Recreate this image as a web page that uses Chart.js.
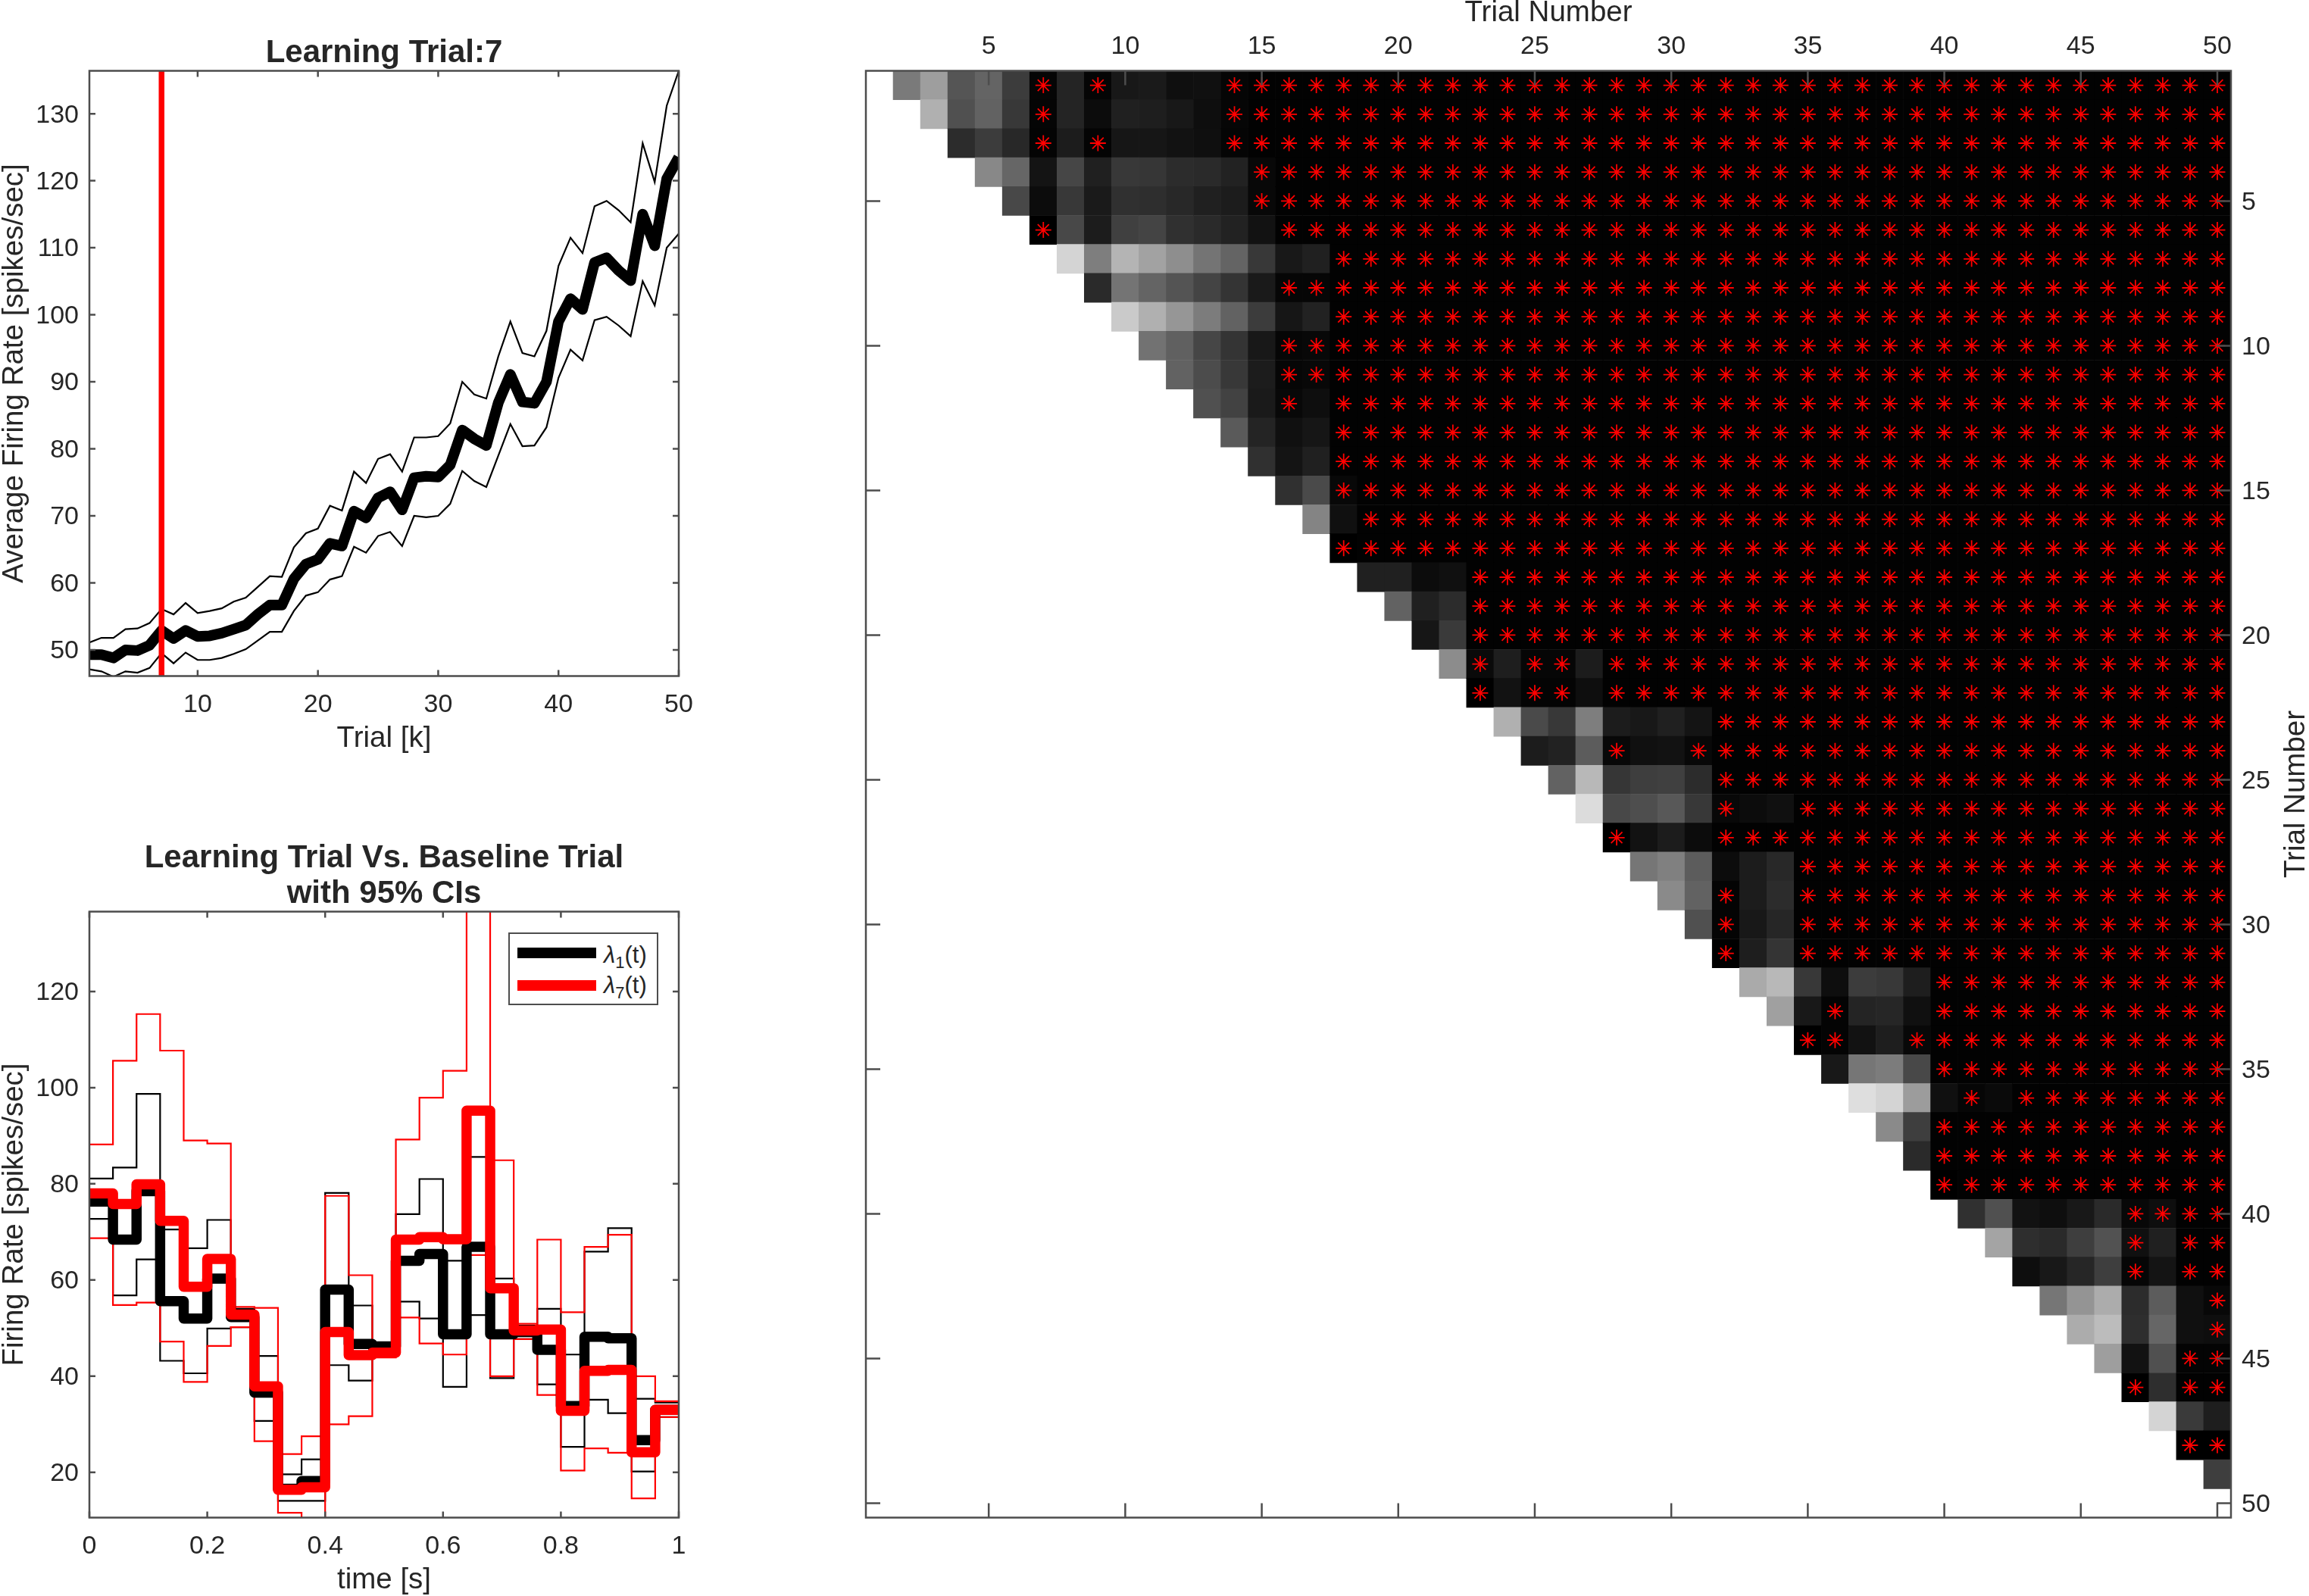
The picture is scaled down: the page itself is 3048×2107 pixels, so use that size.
<!DOCTYPE html>
<html lang="en">
<head>
  <meta charset="UTF-8" />
  <title>Learning Trial Analysis</title>
  <script src="https://cdn.jsdelivr.net/npm/chart.js"></script>
  <style>
    html, body {
      margin: 0;
      padding: 0;
      background: #ffffff;
      width: 3048px;
      height: 2107px;
      overflow: hidden;
      font-family: 'Liberation Sans', Arial, sans-serif;
      color: #262626;
    }

    canvas {
      position: absolute;
      display: block;
    }

    #rateLegend {
      position: absolute;
      left: 671px;
      top: 1231px;
      width: 198px;
      height: 96px;
      box-sizing: border-box;
      border: 2px solid #4d4d4d;
      background: #ffffff;
      font-size: 31px;
    }

    #rateLegend .swatch {
      position: absolute;
      left: 9.5px;
      width: 104px;
      height: 14px;
    }

    #rateLegend .name {
      position: absolute;
      left: 124px;
      line-height: 34px;
      white-space: nowrap;
    }

    #rateLegend sub {
      font-size: 22px;
      line-height: 0;
    }
  </style>
</head>
<body>
  <canvas id="trialRateChart" width="1014" height="1000" style="left:0;top:0"></canvas>
  <canvas id="psthChart" width="1014" height="1057" style="left:0;top:1050px"></canvas>
  <canvas id="pairwiseChart" width="1948" height="2107" style="left:1100px;top:0"></canvas>

  <div id="rateLegend">
    <div class="swatch" style="top:18px;background:#000000"></div>
    <div class="name" style="top:11px"><i>λ</i><sub>1</sub>(t)</div>
    <div class="swatch" style="top:61px;background:#ff0000"></div>
    <div class="name" style="top:51px"><i>λ</i><sub>7</sub>(t)</div>
  </div>

  <script>
    // average rate per trial with confidence bounds
    const trials = Array.from({ length: 50 }, (_, i) => i + 1);
    const learningTrial = 7;
    const rateMean = [49.3, 49.3, 48.8, 50, 49.9, 50.7, 52.9, 51.7, 52.9, 52,
      52.1, 52.5, 53.1, 53.7, 55.3, 56.7, 56.7, 60.6, 62.8, 63.5,
      65.9, 65.5, 70.7, 69.7, 72.7, 73.6, 70.9, 75.7, 75.9, 75.8,
      77.6, 82.8, 81.5, 80.5, 86.9, 91.1, 87, 86.8, 90, 99,
      102.4, 100.8, 107.8, 108.5, 106.6, 105.1, 115, 110.3, 120.3, 123.5];
    const rateUpper = [51.1, 51.8, 51.8, 53.1, 53.2, 54, 56.1, 55.3, 57, 55.5,
      55.8, 56.2, 57.2, 57.8, 59.4, 61, 60.9, 65.3, 67.4, 68.1,
      71.5, 70.8, 76.6, 74.9, 78.5, 79.2, 76.6, 81.7, 81.7, 81.9,
      83.8, 90, 88.1, 87.5, 93.8, 99, 94.3, 93.8, 97.6, 107.3,
      111.5, 109.2, 116.2, 117, 115.6, 113.8, 125.6, 119.8, 131.2, 136.4];
    const rateLower = [47.1, 46.8, 46, 46.8, 46.6, 47.3, 49.5, 48, 49.6, 48.5,
      48.5, 48.8, 49.4, 50.1, 51.4, 52.7, 52.7, 55.8, 58.1, 58.6,
      60.5, 61, 65.4, 64.5, 67, 67.6, 65.5, 70, 69.8, 70,
      71.8, 76.7, 75.2, 74.3, 79, 83.7, 80.4, 80.5, 83.2, 90.6,
      94.8, 93.2, 99.2, 99.7, 98.4, 96.8, 105, 101.4, 110, 112.1];
    const rateXTicks = [10, 20, 30, 40, 50];
    const rateYTicks = [50, 60, 70, 80, 90, 100, 110, 120, 130];

    // binned firing rate, baseline trial (1) and learning trial (7)
    const timeEdges = [0, 0.04, 0.08, 0.12, 0.16, 0.2, 0.24, 0.28, 0.32, 0.36, 0.4, 0.44, 0.48,
      0.52, 0.56, 0.6, 0.64, 0.68, 0.72, 0.76, 0.8, 0.84, 0.88, 0.92, 0.96, 1];
    const baseMean = [76.3, 68.4, 78.5, 55.6, 52, 60.3, 52.3, 36.6, 16.6, 18.2, 58, 46.7, 46.2,
      64, 65.4, 48.7, 66.9, 48.7, 49.2, 45.5, 33.8, 48.2, 47.9, 26.7, 33];
    const baseUpper = [81.1, 83.4, 98.7, 70.5, 66.6, 72.5, 54, 44.2, 19.6, 22.7, 78.1, 54.7, 46.9,
      73.7, 81, 64, 85.6, 60.3, 50.5, 54, 44.5, 65.9, 70.8, 35.3, 34.5];
    const baseLower = [72.7, 56.8, 64.3, 43.2, 40.6, 49.9, 50.2, 30.7, 14.1, 14.1, 42.3, 39.1, 44.2,
      55.5, 52, 37.8, 52.7, 39.6, 47.7, 38.3, 25.3, 35.1, 32.3, 20.2, 31.5];
    const learnMean = [78, 75.8, 79.9, 72.3, 58.6, 64.4, 52.8, 37.9, 16.4, 16.9, 49.2, 44.4, 44.9,
      68.4, 68.9, 68.5, 95.2, 58.3, 49.5, 49.7, 32.8, 41.1, 41.3, 24.2, 33];
    const learnUpper = [88.2, 105.6, 115.3, 107.7, 89, 88.4, 54.4, 54.2, 23.8, 27.5, 77.5, 61, 46.9,
      89.2, 97.9, 103.5, 145, 84.9, 50.9, 68.4, 53.3, 66.9, 69.4, 40, 34.8];
    const learnLower = [68.7, 54.8, 55.3, 47.2, 38.8, 46.3, 50.2, 26.5, 11.6, 10.5, 30, 31.7, 43.9,
      52.2, 46.8, 44.5, 65.2, 40, 47.7, 36.1, 20.4, 25, 24.1, 14.6, 31.5];
    const timeTicks = [0, 0.2, 0.4, 0.6, 0.8, 1];
    const psthYTicks = [20, 40, 60, 80, 100, 120];

    // pairwise comparison: one row per trial, cells start right of the diagonal.
    // cells past the end of a row are black
    const cellGrays = [
      [122, 158, 85, 100, 60, 5, 36, 5, 24, 26, 15, 16, 5],
      [176, 80, 98, 56, 5, 36, 12, 32, 30, 24, 14, 6],
      [44, 60, 40, 4, 28, 4, 22, 22, 18, 15, 5],
      [136, 102, 20, 70, 32, 56, 54, 44, 42, 34, 8],
      [72, 12, 56, 26, 48, 46, 40, 32, 28, 8],
      [0, 72, 28, 64, 68, 48, 42, 34, 18],
      [212, 126, 180, 162, 142, 116, 100, 56, 24, 32],
      [42, 116, 100, 84, 68, 52, 26, 6, 6],
      [202, 176, 150, 124, 98, 60, 22, 34],
      [114, 96, 70, 52, 24, 6, 8],
      [98, 76, 56, 28, 6, 8],
      [80, 66, 26, 8, 14],
      [90, 36, 16, 22],
      [48, 20, 32],
      [48, 74, 8],
      [132, 16],
      [0],
      [32, 32, 12, 16],
      [98, 32, 44],
      [22, 58],
      [140, 10, 30, 6, 6, 28],
      [0, 18, 4, 4, 14],
      [176, 74, 56, 126, 28, 24, 32, 20],
      [28, 34, 92, 8, 16, 18, 8],
      [98, 184, 54, 62, 64, 44],
      [220, 72, 78, 88, 56, 8, 12, 16],
      [0, 18, 28, 12],
      [118, 128, 92, 12, 28, 40],
      [138, 98, 4, 28, 44],
      [80, 4, 24, 38],
      [0, 30, 52],
      [170, 184, 56, 14, 60, 56, 30],
      [160, 24, 4, 36, 38, 16],
      [0, 4, 18, 30, 8],
      [24, 118, 124, 72],
      [222, 212, 156, 16, 6, 10],
      [138, 62],
      [42],
      [0],
      [48, 80, 18, 14, 24, 42, 8, 14],
      [164, 46, 42, 62, 82, 16, 32],
      [14, 24, 38, 62, 6, 20],
      [118, 148, 172, 44, 92, 16, 8],
      [172, 188, 46, 102, 16, 14],
      [158, 18, 80, 4, 4],
      [0, 46],
      [212, 58, 30],
      [0, 0],
      [62]
    ];
    // first trial of the unbroken run of significant cells in each row
    const starFrom = [14, 14, 14, 15, 15, 16, 18, 16, 18, 16,
      16, 18, 18, 18, 18, 19, 18, 23, 23, 23,
      28, 28, 32, 31, 32, 35, 32, 35, 35, 35,
      35, 40, 40, 39, 40, 43, 40, 40, 40, 47,
      49, 49, 50, 50, 49, 49, 51, 49, 51];
    // isolated significant cells left of that run
    const starExtra = [[7, 9], [7], [7, 9], [], [], [7], [], [], [], [],
      [], [16], [], [], [], [], [], [], [], [],
      [23, 25, 26], [23, 25, 26], [], [28], [], [32], [28], [], [32], [32],
      [32], [], [36], [35, 36], [], [41], [], [], [], [],
      [47], [47], [], [], [], [47], [], [], []];
    const trialTicks = [5, 10, 15, 20, 25, 30, 35, 40, 45, 50];

    const FONT = "'Liberation Sans', Arial, sans-serif";
    const INK = '#262626';
    const FRAME = '#4d4d4d';
    const tickFont = { family: FONT, size: 34 };
    const labelFont = { family: FONT, size: 38.5, lineHeight: 1 };
    const titleFont = { family: FONT, size: 42, weight: 'bold', lineHeight: 1.119 };

    Chart.defaults.color = INK;

    // fixes the band an axis takes up so the plot area lands where it should
    function pinAxis(size) {
      return function (scale) {
        if (scale.isHorizontal()) scale.height = size;
        else scale.width = size;
        scale.paddingLeft = scale.paddingRight = scale.paddingTop = scale.paddingBottom = 0;
      };
    }

    function axis(range, ticks, band, padding, extra) {
      return Object.assign({
        type: 'linear',
        min: range[0],
        max: range[1],
        afterBuildTicks: s => { s.ticks = ticks.map(value => ({ value })); },
        afterFit: pinAxis(band),
        grid: { display: false, drawTicks: false },
        border: { display: false },
        ticks: { font: tickFont, color: INK, padding, maxRotation: 0, autoSkip: false,
          labelOffset: band > 110 || band === 103 ? 2 : 0,
          callback: v => String(v) }
      }, extra);
    }

    // closed frame with inward ticks on all four sides
    const boxFrame = {
      id: 'boxFrame',
      afterDatasetsDraw(chart, args, opts) {
        const { ctx, chartArea: a, scales } = chart;
        const len = opts.tickLength;
        ctx.save();
        ctx.strokeStyle = FRAME;
        ctx.lineWidth = 2.5;
        ctx.strokeRect(a.left, a.top, a.right - a.left, a.bottom - a.top);
        ctx.beginPath();
        scales.x.ticks.forEach(t => {
          const x = scales.x.getPixelForValue(t.value);
          ctx.moveTo(x, a.top); ctx.lineTo(x, a.top + len);
          ctx.moveTo(x, a.bottom); ctx.lineTo(x, a.bottom - len);
        });
        scales.y.ticks.forEach(t => {
          const y = scales.y.getPixelForValue(t.value);
          ctx.moveTo(a.left, y); ctx.lineTo(a.left + len, y);
          ctx.moveTo(a.right, y); ctx.lineTo(a.right - len, y);
        });
        ctx.stroke();
        ctx.restore();
      }
    };

    // y label of the right hand axis, reads bottom to top
    const sideTitle = {
      id: 'sideTitle',
      afterDraw(chart, args, opts) {
        if (!opts.text) return;
        const { ctx, chartArea: a } = chart;
        ctx.save();
        ctx.translate(opts.x, (a.top + a.bottom) / 2);
        ctx.rotate(-Math.PI / 2);
        ctx.font = '38.5px ' + FONT;
        ctx.fillStyle = INK;
        ctx.textAlign = 'center';
        ctx.textBaseline = 'middle';
        ctx.fillText(opts.text, 0, 0);
        ctx.restore();
      }
    };

    Chart.register(boxFrame, sideTitle);

    const basePlugins = { legend: { display: false }, tooltip: { enabled: false } };

    function thinLine(label, xs, ys, color, stepped) {
      return {
        label,
        data: xs.map((x, i) => ({ x, y: ys[Math.min(i, ys.length - 1)] })),
        borderColor: color,
        borderWidth: 2.2,
        pointRadius: 0,
        stepped,
        clip: 0,
        order: 4
      };
    }

    // trial by trial average rate
    new Chart(document.getElementById('trialRateChart'), {
      type: 'line',
      data: {
        datasets: [
          { label: 'Learning trial',
            data: [{ x: learningTrial, y: 46.1 }, { x: learningTrial, y: 136.4 }],
            borderColor: '#ff0000', borderWidth: 7.5, pointRadius: 0, clip: 0, order: 1 },
          { label: 'Mean rate',
            data: trials.map((x, i) => ({ x, y: rateMean[i] })),
            borderColor: '#000000', borderWidth: 14, pointRadius: 0,
            borderJoinStyle: 'round', clip: 0, order: 2 },
          thinLine('Upper bound', trials, rateUpper, '#000000', false),
          thinLine('Lower bound', trials, rateLower, '#000000', false)
        ]
      },
      options: {
        responsive: false,
        animation: false,
        events: [],
        devicePixelRatio: 1,
        layout: { padding: { right: 118 } },
        scales: {
          x: axis([1, 50], rateXTicks, 107.5, 18, {
            title: { display: true, text: 'Trial [k]', font: labelFont, color: INK, padding: { top: 0, bottom: 5.5 } }
          }),
          y: axis([46.1, 136.4], rateYTicks, 118, 14, {
            title: { display: true, text: 'Average Firing Rate [spikes/sec]', font: labelFont, color: INK, padding: 0 }
          })
        },
        plugins: Object.assign({}, basePlugins, {
          title: { display: true, text: 'Learning Trial:7', font: titleFont, color: INK, fullSize: false,
            padding: { top: 46.5, bottom: 0 } },
          boxFrame: { tickLength: 8 }
        })
      }
    });

    function thickStairs(label, ys, color, order) {
      const line = thinLine(label, timeEdges, ys, color, 'before');
      line.borderWidth = 13.5;
      line.borderJoinStyle = 'round';
      line.order = order;
      return line;
    }

    // binned rate of trial 1 against trial 7
    new Chart(document.getElementById('psthChart'), {
      type: 'line',
      data: {
        datasets: [
          thickStairs('λ7(t)', learnMean, '#ff0000', 1),
          thickStairs('λ1(t)', baseMean, '#000000', 2),
          thinLine('λ7 upper', timeEdges, learnUpper, '#ff0000', 'before'),
          thinLine('λ7 lower', timeEdges, learnLower, '#ff0000', 'before'),
          thinLine('λ1 upper', timeEdges, baseUpper, '#000000', 'before'),
          thinLine('λ1 lower', timeEdges, baseLower, '#000000', 'before')
        ]
      },
      options: {
        responsive: false,
        animation: false,
        events: [],
        devicePixelRatio: 1,
        layout: { padding: { right: 118 } },
        scales: {
          x: axis([0, 1], timeTicks, 103.5, 18, {
            title: { display: true, text: 'time [s]', font: labelFont, color: INK, padding: { top: 0, bottom: 1.5 } }
          }),
          y: axis([10.6, 136.6], psthYTicks, 118, 14, {
            title: { display: true, text: 'Firing Rate [spikes/sec]', font: labelFont, color: INK, padding: 0 }
          })
        },
        plugins: Object.assign({}, basePlugins, {
          title: { display: true, text: ['Learning Trial Vs. Baseline Trial', 'with 95% CIs'], fullSize: false,
            font: titleFont, color: INK, padding: { top: 59.5, bottom: 0 } },
          boxFrame: { tickLength: 8 }
        })
      }
    });

    // one floating bar per cell of the upper triangle, stars over the significant ones
    const cells = [];
    const cellColors = [];
    const stars = [];
    cellGrays.forEach((grays, r) => {
      const row = r + 1;
      for (let col = row + 1; col <= 50; col++) {
        const g = col - row - 1 < grays.length ? grays[col - row - 1] : 2;
        cells.push({ x: col, y: [row - 0.5, row + 0.5] });
        cellColors.push(`rgb(${g},${g},${g})`);
        if (col >= starFrom[r] || starExtra[r].includes(col)) stars.push({ x: col, y: row });
      }
    });

    new Chart(document.getElementById('pairwiseChart'), {
      type: 'bar',
      data: {
        datasets: [
          { type: 'scatter', label: 'Significant', data: stars, pointStyle: 'star', pointRadius: 10.5,
            pointBorderColor: '#ff0000', pointBackgroundColor: '#ff0000', pointBorderWidth: 1.8, order: 1 },
          { type: 'bar', label: 'Cells', data: cells, backgroundColor: cellColors, borderWidth: 0,
            borderSkipped: false, grouped: false, barPercentage: 1, categoryPercentage: 1, order: 2 }
        ]
      },
      options: {
        responsive: false,
        animation: false,
        events: [],
        devicePixelRatio: 1,
        layout: { padding: { left: 43, bottom: 103.5 } },
        scales: {
          x: axis([0.5, 50.5], trialTicks, 93.5, 11, {
            position: 'top',
            offset: false,
            title: { display: true, text: 'Trial Number', font: { family: FONT, size: 38.5, lineHeight: 0.9 }, color: INK, padding: 0 }
          }),
          y: axis([0.5, 50.5], trialTicks, 103, 14, { position: 'right', reverse: true })
        },
        plugins: Object.assign({}, basePlugins, {
          boxFrame: { tickLength: 19 },
          sideTitle: { text: 'Trial Number', x: 1931 }
        })
      }
    });
  </script>
</body>
</html>
